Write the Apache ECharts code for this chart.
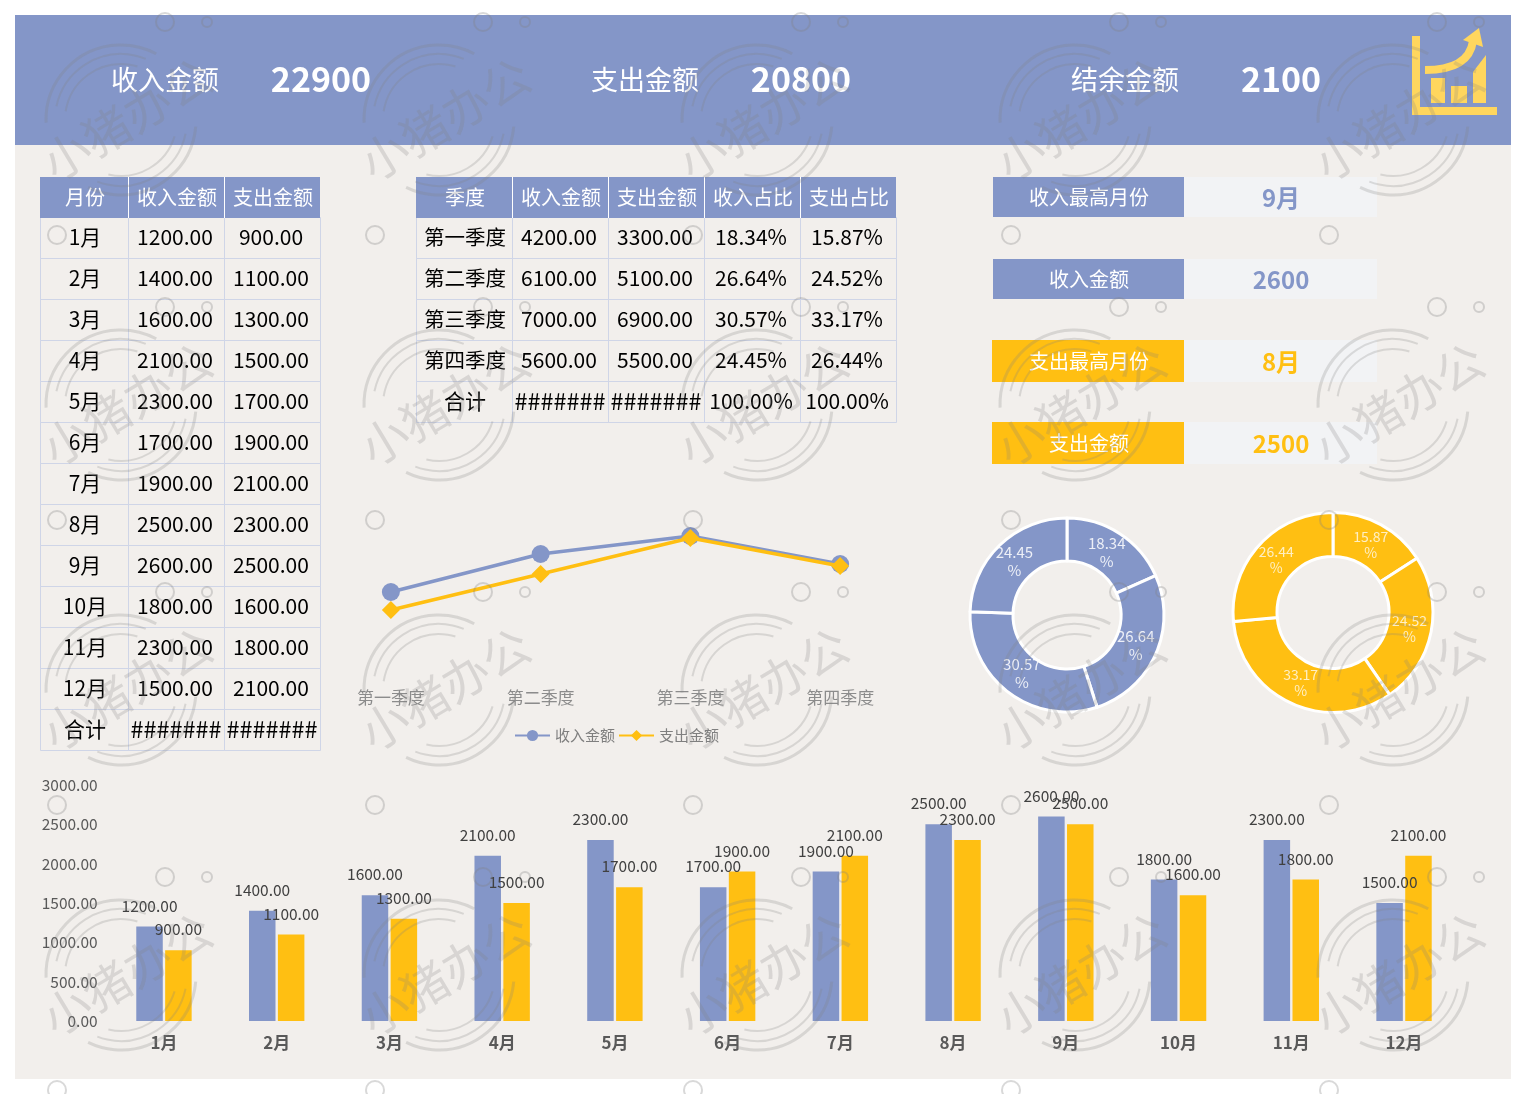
<!DOCTYPE html>
<html>
<head>
<meta charset="utf-8">
<style>html,body{margin:0;padding:0;background:#fff;overflow:hidden}#c{width:1526px;height:1094px}</style>
<script src="https://cdn.jsdelivr.net/npm/echarts@6/dist/echarts.min.js"></script>
</head>
<body>
<div id="c"></div>
<script>
// ---- data ----
const months = ['1月','2月','3月','4月','5月','6月','7月','8月','9月','10月','11月','12月'];
const monthIncome = [1200,1400,1600,2100,2300,1700,1900,2500,2600,1800,2300,1500];
const monthExpense = [900,1100,1300,1500,1700,1900,2100,2300,2500,1600,1800,2100];
const quarters = ['第一季度','第二季度','第三季度','第四季度'];
const quarterIncome = [4200,6100,7000,5600];
const quarterExpense = [3300,5100,6900,5500];
const incomeShare = [18.34,26.64,30.57,24.45];
const expenseShare = [15.87,24.52,33.17,26.44];
const summaryLabels = ['收入金额','支出金额','结余金额'];
const summaryValues = ['22900','20800','2100'];
const monthHeaders = ['月份','收入金额','支出金额'];
const quarterHeaders = ['季度','收入金额','支出金额','收入占比','支出占比'];
const totalLabel = '合计';
const overflowMark = '#######';
const fullShare = '100.00%';
const cardLabels = ['收入最高月份','收入金额','支出最高月份','支出金额'];
const cardValues = ['9月','2600','8月','2500'];
const yTicks = {min:0,max:3000,step:500};

// ---- styles ----
const BLUE='#8496C8', YELLOW='#FFBF12', PANEL='#F2EFEC', FONT='"Noto Sans CJK SC","Noto Sans",sans-serif';
const g=[];
function rect(x,y,w,h,fill,stroke,z){g.push({type:'rect',silent:true,z:z||1,shape:{x,y,width:w,height:h},style:{fill:fill||'transparent',stroke:stroke||null,lineWidth:stroke?1:0}});}
function text(t,x,y,size,fill,weight,z){g.push({type:'text',silent:true,z:z||3,style:{text:t,x,y,fill,font:(weight||'normal')+' '+size+'px '+FONT,textAlign:'center',textVerticalAlign:'middle',align:'center',verticalAlign:'middle'}});}

rect(15,15,1496,1064,PANEL);
rect(15,15,1496,130,BLUE);
const sumX=[[165,321],[645,801],[1125,1281]];
summaryLabels.forEach((s,i)=>{text(s,sumX[i][0],80,27,'#fff');text(summaryValues[i],sumX[i][1],79,34,'#fff','bold');});

// tables
function table(xs,top,rowH,headers,rows){
  rect(xs[0],top,xs[xs.length-1]-xs[0],rowH,BLUE,null,2);
  headers.forEach((h,i)=>{text(h,(xs[i]+xs[i+1])/2+1,top+rowH/2,20,'#fff');
    if(i>0)g.push({type:'line',silent:true,z:2,shape:{x1:xs[i]+.5,y1:top,x2:xs[i]+.5,y2:top+rowH},style:{stroke:'#fff',lineWidth:1}});});
  rows.forEach((r,j)=>{r.forEach((c,i)=>{
    const y=top+rowH*(j+1);
    rect(xs[i]+.5,y-.5,xs[i+1]-xs[i],rowH,null,'#CFD5E7',1);
    const isOver=c===overflowMark;
    const size=isOver?23.4:(i===0&&c.length>3?20.5:21);
    text(c,(xs[i]+xs[i+1])/2+(i===0?1:(isOver?0:-1)),y+rowH/2-1,size,'#000');
  });});
}
const f2=v=>v.toFixed(2), pct=v=>v.toFixed(2)+'%';
const t1Rows=months.map((m,i)=>[m,f2(monthIncome[i]),f2(monthExpense[i])]);
t1Rows.push([totalLabel,overflowMark,overflowMark]);
table([40,128,224,320],177,41,monthHeaders,t1Rows);
const t2Rows=quarters.map((q,i)=>[q,f2(quarterIncome[i]),f2(quarterExpense[i]),pct(incomeShare[i]),pct(expenseShare[i])]);
t2Rows.push([totalLabel,overflowMark,overflowMark,fullShare,fullShare]);
table([416,512,608,704,800,896],177,41,quarterHeaders,t2Rows);

// right cards
const cardBoxes=[[993,177,40,BLUE],[993,259,40,BLUE],[992,340,42,YELLOW],[992,422,42,YELLOW]];
cardLabels.forEach((l,i)=>{
  const [x,y,h,col]=cardBoxes[i];
  rect(x,y,1184-x,h,col);
  rect(1184,y,193,h,'#F2F3F5');
  text(l,1089,y+h/2,20,'#fff');
  text(cardValues[i],1281,y+h/2+0.5,24,col,'bold');
});

// icon
const IC='#FFD65E';
rect(1412,36,8,79,IC,null,2);rect(1412,107,85,8,IC,null,2);
rect(1431,78,14,25,IC,null,2);rect(1451,86,16,17,IC,null,2);
g.push({type:'polygon',silent:true,z:2,shape:{points:[[1473,72],[1486,55],[1486,103],[1473,103]]},style:{fill:IC}});
g.push({type:'bezierCurve',silent:true,z:2,shape:{x1:1425,y1:70,cpx1:1452,cpy1:70,cpx2:1470,cpy2:62,x2:1473,y2:41},style:{stroke:IC,lineWidth:8,fill:'transparent'}});
g.push({type:'polygon',silent:true,z:2,shape:{points:[[1479,28],[1483,47],[1463,40]]},style:{fill:IC}});

// watermark
const WM='rgba(130,130,130,0.24)', WMT='rgba(130,130,130,0.23)';
const deg=a=>a*Math.PI/180;
const arcs=[[75,178,298,3],[75,5,116,3],[66,192,292,2],[66,12,111,2],[56,189,287,2],[56,17,103,2]];
function circle(x,y,r){g.push({type:'circle',silent:true,z:50,shape:{cx:x,cy:y,r},style:{fill:'transparent',stroke:'rgba(130,130,130,0.3)',lineWidth:2}});}
for(let j=0;j<4;j++)for(let k=0;k<5;k++){
  const cx=121+318*k, cy=120+285*j;
  arcs.forEach(a=>g.push({type:'arc',silent:true,z:50,shape:{cx,cy,r:a[0],startAngle:deg(a[1]),endAngle:deg(a[2]),clockwise:true},style:{stroke:WM,lineWidth:a[3],fill:'transparent'}}));
  g.push({type:'text',silent:true,z:50,x:cx+6,y:cy-1,rotation:deg(31),style:{text:'小猪办公',x:0,y:0,fill:WMT,font:'normal 47px '+FONT,textAlign:'center',textVerticalAlign:'middle',align:'center',verticalAlign:'middle'}});
  circle(165+318*k,22+285*j,9);circle(207+318*k,22+285*j,5);
  circle(57+318*k,235+285*j,9);
}

// small per-slice nudges of the donut labels
const innerNudge=[[-3,3],[-3,-2],[2,-4],[2,3]];
const outerNudge=[[-1,3],[-3,0],[2,-3],[3,2]];

const chart=echarts.init(document.getElementById('c'));
chart.setOption({
  animation:false,
  backgroundColor:'#fff',
  textStyle:{fontFamily:FONT},
  graphic:{elements:g},
  legend:{data:['收入金额','支出金额'],left:509,top:723,itemWidth:35,itemHeight:14,itemGap:3,textStyle:{color:'#7F7F7F',fontSize:15,fontFamily:FONT}},
  grid:[
    {left:316,width:599,top:516,height:160},
    {left:107.6,width:1352.8,top:785,height:236}
  ],
  xAxis:[
    {gridIndex:0,z:5,type:'category',data:quarters,axisLine:{show:false},axisTick:{show:false},axisLabel:{color:'#8C8C8C',fontSize:17,margin:13,fontFamily:FONT}},
    {gridIndex:1,z:5,type:'category',data:months,axisLine:{show:false},axisTick:{show:false},axisLabel:{color:'#595959',fontSize:17,fontWeight:'bold',margin:13,fontFamily:FONT}}
  ],
  yAxis:[
    {gridIndex:0,type:'value',min:0,max:8000,show:false,splitLine:{show:false}},
    {gridIndex:1,z:5,type:'value',min:yTicks.min,max:yTicks.max,interval:yTicks.step,axisLine:{show:false},axisTick:{show:false},splitLine:{show:false},axisLabel:{color:'#595959',fontSize:15.5,margin:10,formatter:v=>v.toFixed(2),fontFamily:FONT}}
  ],
  series:[
    {name:'收入金额',type:'line',xAxisIndex:0,yAxisIndex:0,data:quarterIncome,symbol:'circle',symbolSize:18,lineStyle:{color:BLUE,width:3.5},itemStyle:{color:BLUE},z:3},
    {name:'支出金额',type:'line',xAxisIndex:0,yAxisIndex:0,data:quarterExpense,symbol:'diamond',symbolSize:18,lineStyle:{color:YELLOW,width:3.5},itemStyle:{color:YELLOW},z:4},
    {name:'月收入',type:'bar',xAxisIndex:1,yAxisIndex:1,data:monthIncome,barWidth:26.5,barGap:'9%',itemStyle:{color:BLUE},label:{show:true,position:'top',distance:13,color:'#404040',fontSize:15.5,formatter:p=>p.value.toFixed(2),fontFamily:FONT}},
    {name:'月支出',type:'bar',xAxisIndex:1,yAxisIndex:1,data:monthExpense,barWidth:26.5,barGap:'9%',itemStyle:{color:YELLOW},label:{show:true,position:'top',distance:13,color:'#404040',fontSize:15.5,formatter:p=>p.value.toFixed(2),fontFamily:FONT}},
    {name:'收入占比',type:'pie',center:[1067,615],radius:[54,97],startAngle:90,clockwise:true,data:quarters.map((q,i)=>({name:q,value:incomeShare[i]})),itemStyle:{color:BLUE,borderColor:'#fff',borderWidth:3},label:{position:'inside',formatter:'{c}\n%',color:'rgba(255,255,255,0.85)',fontSize:15,lineHeight:18,fontFamily:FONT},labelLayout:p=>({dx:innerNudge[p.dataIndex][0],dy:innerNudge[p.dataIndex][1]}),labelLine:{show:false},emphasis:{disabled:true}},
    {name:'支出占比',type:'pie',center:[1333,612.5],radius:[56,100],startAngle:90,clockwise:true,data:quarters.map((q,i)=>({name:q,value:expenseShare[i]})),itemStyle:{color:YELLOW,borderColor:'#fff',borderWidth:3},label:{position:'inside',formatter:'{c}\n%',color:'rgba(255,255,255,0.75)',fontSize:14,lineHeight:16,fontFamily:FONT},labelLayout:p=>({dx:outerNudge[p.dataIndex][0],dy:outerNudge[p.dataIndex][1]}),labelLine:{show:false},emphasis:{disabled:true}}
  ]
});
</script>
</body>
</html>
